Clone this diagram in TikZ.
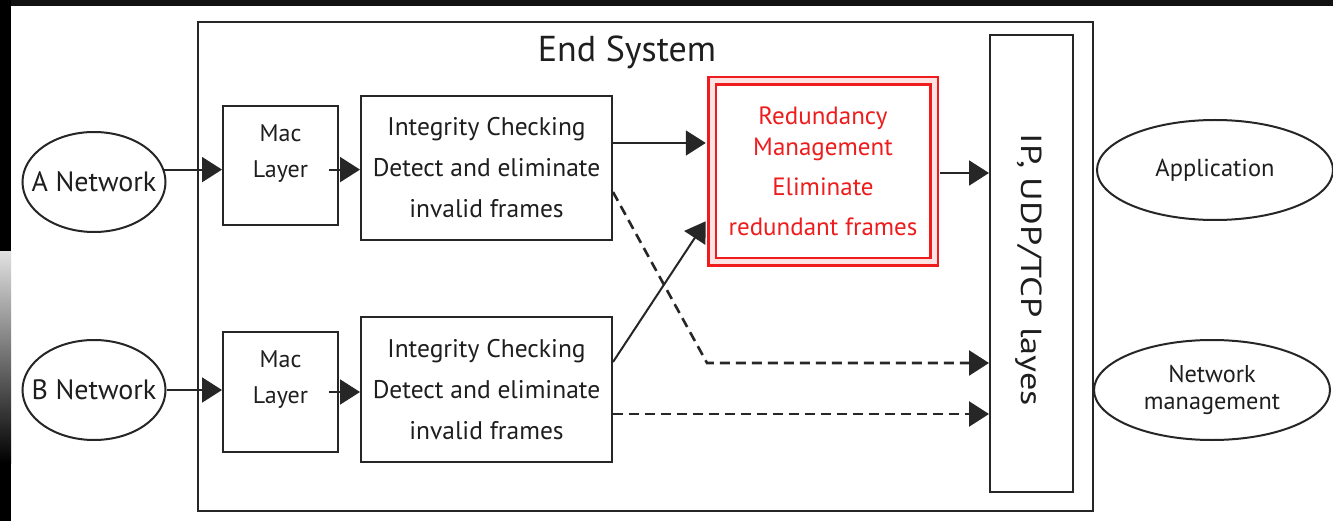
\documentclass[tikz,border=0pt]{standalone}
\usepackage{fontspec}
\setmainfont{PT Sans}
\newfontfamily\ipfont[FakeStretch=1.25]{PT Sans}
\usetikzlibrary{arrows.meta,shapes.geometric,calc}
\definecolor{ln}{HTML}{262626}
\definecolor{rd}{HTML}{EE1C1C}
\definecolor{txtc}{HTML}{1E1E1E}
\begin{document}
\begin{tikzpicture}[x=1pt,y=-1pt,
  box/.style={draw=ln,line width=2pt,inner sep=0pt,rectangle},
  ell/.style={draw=ln,line width=2pt,ellipse,inner sep=0pt},
  etxt/.style={text=txtc,font=\fontsize{28}{30}\selectfont,align=center},
  arr/.style={draw=ln,line width=2pt,-{Triangle[length=20pt,width=25pt]}},
  darr/.style={arr,dash pattern=on 10pt off 6pt,line width=2.6pt},
  txt/.style={font=\fontsize{25.5}{41}\selectfont,align=center,text=txtc},
  rtxt/.style={font=\fontsize{25}{40}\selectfont,align=center,text=rd}
]
\useasboundingbox (0,0) rectangle (1333,521);
\fill[white] (0,0) rectangle (1333,521);
\fill[black!93] (0,0) rectangle (1333,6);
\fill[black] (0,0) rectangle (11,252);
\shade[top color=black!12,bottom color=black] (0,252) rectangle (11,463);
\fill[black] (0,463) rectangle (11,521);

% End system frame
\node[box,minimum width=895pt,minimum height=489pt] (es) at (645.5,266.5) {};
\node[font=\fontsize{36}{40}\selectfont,text=txtc] (title) at (627,52) {End System};

% external ellipses
\node[ell,minimum width=143pt,minimum height=100pt,label={[etxt]center:A Network}] (aNet) at (94,182) {};
\node[ell,minimum width=143pt,minimum height=100pt,label={[etxt]center:B Network}] (bNet) at (94,390) {};
\node[ell,minimum width=236pt,minimum height=100pt,label={[etxt,font=\fontsize{24.5}{28}\selectfont]center:Application}] (app) at (1215,170) {};
\node[ell,minimum width=236pt,minimum height=100pt,label={[etxt,font=\fontsize{24.3}{27}\selectfont]center:Network\\management}] (nm) at (1212,390) {};

% Mac layers
\node[box,minimum width=115pt,minimum height=119pt] (macA) at (280.5,165.5) {};
\node[txt,font=\fontsize{24}{36}\selectfont] (macAt) at (280.5,154) {Mac\\Layer};
\node[box,minimum width=115pt,minimum height=120pt] (macB) at (280.5,392) {};
\node[txt,font=\fontsize{24}{36}\selectfont] (macBt) at (280.5,380) {Mac\\Layer};

% Integrity checking
\node[box,txt,minimum width=251pt,minimum height=144pt] (intA) at (486.5,168) {Integrity Checking\\Detect and eliminate\\invalid frames};
\node[box,txt,minimum width=251pt,minimum height=145pt] (intB) at (486.5,389.5) {Integrity Checking\\Detect and eliminate\\invalid frames};

% Redundancy management
\node[draw=rd,line width=2.5pt,double=rd!12,double distance=5pt,rectangle,inner sep=0pt,
      minimum width=222pt,minimum height=181pt,rtxt] (red) at (823,171.5)
      {Redundancy\\[-9pt]Management\\Eliminate\\redundant frames};

% IP/UDP/TCP layer
\node[box,minimum width=83pt,minimum height=457pt] (ip) at (1031.5,263.5) {};
\node[rotate=-90,font=\ipfont\fontsize{29}{32}\selectfont,text=txtc] (ipt) at (1029,270) {IP, UDP/TCP layes};

% connectors
\draw[arr] (aNet.10) -- (macA.west |- aNet.10);
\draw[arr] ($(macA.east |- aNet.10)+(-10,0)$) -- (intA.west |- aNet.10);
\draw[arr] (bNet.east) -- (macB.west |- bNet.east);
\draw[arr] ($(macB.east |- bNet.east)+(-10,2)$) -- ($(intB.west |- bNet.east)+(0,2)$);

\coordinate (aOut) at ($(intA.east)+(0,-25)$);
\draw[arr,shorten >=5pt] (aOut) -- (red.west |- aOut);
\coordinate (bTgt) at ($(red.south west)+(-5,-42)$);
\draw[arr] ($(intB.east)+(0,-27.5)$) -- (bTgt);
\draw[arr,shorten <=5pt] (red.east |- 0,173) -- (ip.west |- 0,173);

\coordinate (bend) at (707,363);
\draw[darr] ($(intA.east)+(0,24)$) -- (bend) -- (ip.west |- bend);
\draw[darr] ($(intB.east)+(0,24.5)$) -- (ip.west |- 0,414);
\end{tikzpicture}
\end{document}
